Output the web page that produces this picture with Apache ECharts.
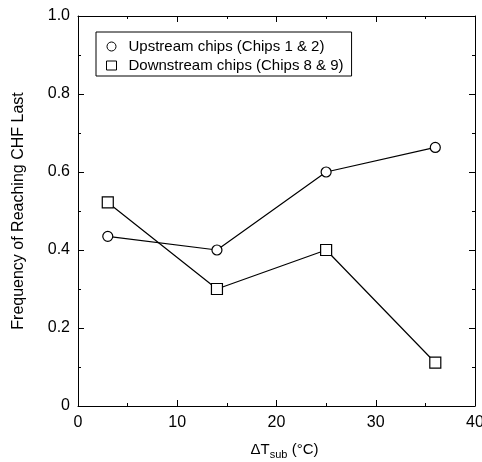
<!DOCTYPE html>
<html>
<head>
<meta charset="utf-8">
<script src="https://cdn.jsdelivr.net/npm/echarts@6/dist/echarts.min.js"></script>
<style>
  html, body { margin: 0; padding: 0; background: #fff; }
  #chart { width: 482px; height: 462px; }
</style>
</head>
<body>
<div id="chart"></div>
<script>
// subcooling (°C)
const dTsub = [3, 14, 25, 36]
const upstream = [0.435, 0.4, 0.6, 0.663]
const downstream = [0.522, 0.3, 0.4, 0.111]
const seriesNames = ['Upstream chips (Chips 1 & 2)', 'Downstream chips (Chips 8 & 9)']

const font = '"Liberation Sans", Arial, Helvetica, sans-serif'

const chart = echarts.init(document.getElementById('chart'))

// frame axes: all four sides, ticks pointing in
const tickCommon = {
  axisLine: { show: true, onZero: false, lineStyle: { color: '#000', width: 1 } },
  axisTick: { show: true, inside: true, length: 6, lineStyle: { color: '#000' } },
  minorTick: { show: true, splitNumber: 2, length: 3, lineStyle: { color: '#000' } },
  splitLine: { show: false }
}

chart.setOption({
  backgroundColor: '#fff',
  animation: false,
  textStyle: { fontFamily: font, color: '#000' },
  // keep the frame where it is even though the "40" label runs off the edge
  grid: { left: 78, right: 7, top: 16, bottom: 56, outerBoundsMode: 'none' },
  legend: {
    orient: 'vertical',
    left: 96,
    top: 32,
    padding: [7, 8, 3, 10],
    itemGap: 4,
    itemWidth: 10,
    itemHeight: 9,
    borderColor: '#000',
    borderWidth: 1,
    textStyle: { fontFamily: font, fontSize: 15, color: '#000', padding: [0, 0, 0, 7] },
    data: [
      { name: seriesNames[0], icon: 'circle', itemStyle: { color: '#fff', borderColor: '#000', borderWidth: 1 } },
      { name: seriesNames[1], icon: 'rect', itemStyle: { color: '#fff', borderColor: '#000', borderWidth: 1 } }
    ]
  },
  xAxis: [
    Object.assign({
      type: 'value', position: 'bottom', min: 0, max: 40, interval: 10,
      name: '{a|ΔT}{s|sub}{a| (°C)}',
      nameLocation: 'middle', nameGap: 34,
      nameTextStyle: {
        padding: [0, 0, 0, 16],
        rich: {
          a: { fontFamily: font, fontSize: 15, color: '#000' },
          s: { fontFamily: font, fontSize: 11, color: '#000', verticalAlign: 'bottom', padding: [9, 0, 0, 0] }
        }
      },
      axisLabel: { fontFamily: font, fontSize: 16, color: '#000', margin: 9 }
    }, tickCommon),
    Object.assign({
      type: 'value', position: 'top', min: 0, max: 40, interval: 10,
      axisLabel: { show: false }
    }, tickCommon)
  ],
  yAxis: [
    Object.assign({
      type: 'value', position: 'left', min: 0, max: 1, interval: 0.2,
      name: 'Frequency of Reaching CHF Last',
      nameLocation: 'middle', nameGap: 51,
      nameTextStyle: { fontFamily: font, fontSize: 16, color: '#000' },
      axisLabel: {
        fontFamily: font, fontSize: 16, color: '#000', margin: 8,
        formatter: v => (v === 0 ? '0' : v.toFixed(1))
      }
    }, tickCommon),
    Object.assign({
      type: 'value', position: 'right', min: 0, max: 1, interval: 0.2,
      axisLabel: { show: false }
    }, tickCommon)
  ],
  series: [
    {
      name: seriesNames[0],
      type: 'line',
      data: dTsub.map((x, i) => [x, upstream[i]]),
      symbol: 'circle',
      symbolSize: 10,
      lineStyle: { color: '#000', width: 1.2 },
      itemStyle: { color: '#fff', borderColor: '#000', borderWidth: 1.2 },
      z: 3
    },
    {
      name: seriesNames[1],
      type: 'line',
      data: dTsub.map((x, i) => [x, downstream[i]]),
      symbol: 'rect',
      symbolSize: 11,
      lineStyle: { color: '#000', width: 1.2 },
      itemStyle: { color: '#fff', borderColor: '#000', borderWidth: 1.2 },
      z: 3
    }
  ]
})
</script>
</body>
</html>
